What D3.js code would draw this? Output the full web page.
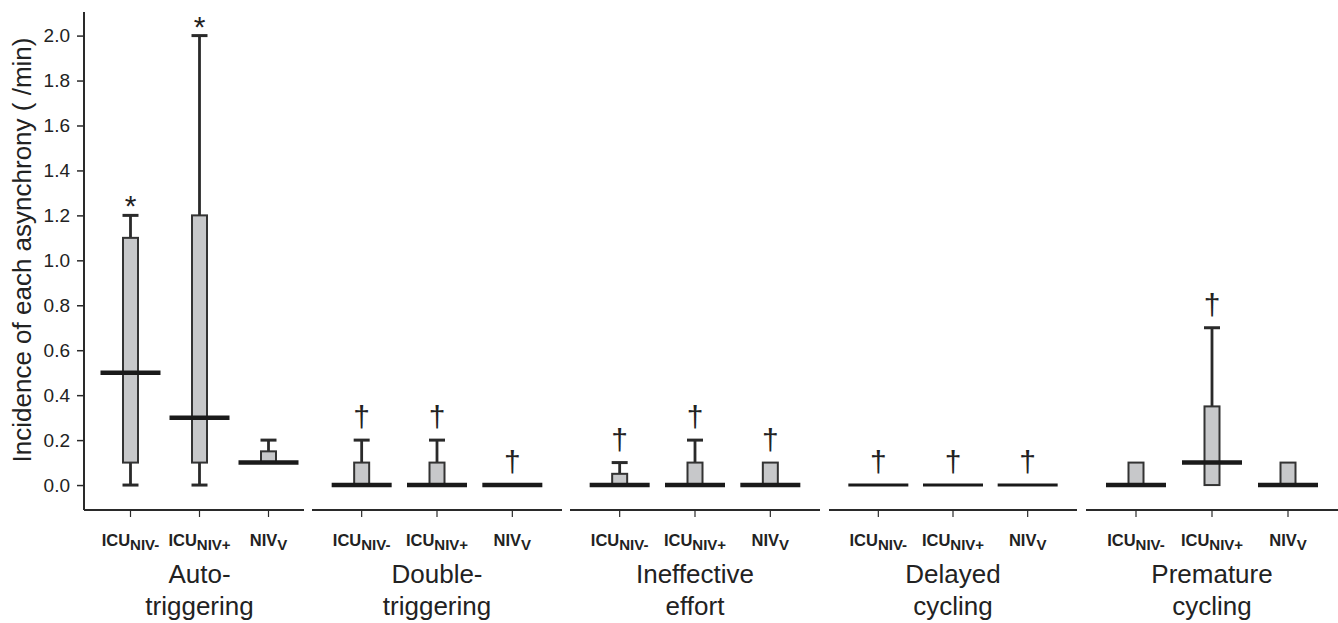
<!DOCTYPE html>
<html>
<head>
<meta charset="utf-8">
<script src="https://cdn.jsdelivr.net/npm/d3@7"></script>
<style>
  body { margin: 0; background: #fff; }
  svg { display: block; }
  text { font-family: "Liberation Sans", Arial, sans-serif; fill: #222; }
</style>
</head>
<body>
<svg id="chart" width="1338" height="623"></svg>
<script>
// groups (two-line labels) and conditions
var groupLines = [["Auto-", "triggering"], ["Double-", "triggering"], ["Ineffective", "effort"], ["Delayed", "cycling"], ["Premature", "cycling"]]
var condMain = ["ICU", "ICU", "NIV"]
var condSub = ["NIV-", "NIV+", "V"]

// box statistics per group, per condition
var whiskerLow  = [[0, 0, 0.1], [0, 0, 0], [0, 0, 0], [0, 0, 0], [0, 0, 0]]
var q1          = [[0.1, 0.1, 0.1], [0, 0, 0], [0, 0, 0], [0, 0, 0], [0, 0, 0]]
var median      = [[0.5, 0.3, 0.1], [0, 0, 0], [0, 0, 0], [0, 0, 0], [0, 0.1, 0]]
var q3          = [[1.1, 1.2, 0.15], [0.1, 0.1, 0], [0.05, 0.1, 0.1], [0, 0, 0], [0.1, 0.35, 0.1]]
var whiskerHigh = [[1.2, 2.0, 0.2], [0.2, 0.2, 0], [0.1, 0.2, 0.1], [0, 0, 0], [0.1, 0.7, 0.1]]
var markers     = [["*", "*", ""], ["\u2020", "\u2020", "\u2020"], ["\u2020", "\u2020", "\u2020"], ["\u2020", "\u2020", "\u2020"], ["", "\u2020", ""]]

var yTicks = [0, 0.2, 0.4, 0.6, 0.8, 1.0, 1.2, 1.4, 1.6, 1.8, 2.0]

// layout
var axisX = 84, axisBottom = 510, axisTop = 12
var segments = [[84, 304], [312, 562], [570, 820], [829, 1077], [1086, 1338]]
var inner = [[96, 303], [324, 550], [582, 808], [841, 1065], [1098, 1326]]
var boxW = 15, medW = 60, capW = 16
var ink = "#2a2a2a"

var svg = d3.select("#chart")

var y = d3.scaleLinear().domain([-0.111, 2.105]).range([axisBottom, axisTop])

// y axis
var yAxis = svg.append("g")
    .attr("transform", "translate(" + axisX + ",0)")
    .call(d3.axisLeft(y).tickValues(yTicks).tickFormat(d3.format(".1f")).tickSize(7).tickSizeOuter(0).tickPadding(7))
yAxis.select(".domain").attr("d", "M0," + axisTop + "V" + axisBottom).attr("stroke", ink).attr("stroke-width", 2)
yAxis.selectAll(".tick line").attr("stroke", ink).attr("stroke-width", 1.5)
yAxis.selectAll(".tick text").style("font-size", "19px").attr("fill", "#222")

svg.append("text")
    .attr("transform", "translate(31,250) rotate(-90)")
    .attr("text-anchor", "middle")
    .style("font-size", "26px")
    .text("Incidence of each asynchrony ( /min)")

groupLines.forEach(function(lines, g) {
    var x = d3.scaleBand().domain(d3.range(3)).range(inner[g])
    var cx = function(i) { return x(i) + x.bandwidth() / 2 }

    // axis segment
    svg.append("line")
        .attr("x1", segments[g][0]).attr("x2", segments[g][1])
        .attr("y1", axisBottom).attr("y2", axisBottom)
        .attr("stroke", ink).attr("stroke-width", 2)

    var xa = svg.append("g")
        .attr("transform", "translate(0," + axisBottom + ")")
        .call(d3.axisBottom(x).tickSize(7).tickSizeOuter(0).tickFormat(""))
    xa.select(".domain").remove()
    xa.selectAll(".tick line").attr("stroke", ink).attr("stroke-width", 1.2)

    // tick labels with subscripts
    d3.range(3).forEach(function(i) {
        var t = svg.append("text")
            .attr("x", cx(i)).attr("y", 546)
            .attr("text-anchor", "middle")
            .style("font-weight", "bold")
            .style("font-size", "16.5px")
        t.append("tspan").text(condMain[i])
        t.append("tspan").attr("dy", 4).style("font-size", "15px").text(condSub[i])
    })

    // group label
    lines.forEach(function(s, k) {
        svg.append("text")
            .attr("x", (inner[g][0] + inner[g][1]) / 2)
            .attr("y", 583 + k * 32)
            .attr("text-anchor", "middle")
            .style("font-size", "26px")
            .text(s)
    })

    var thin = g === 3

    d3.range(3).forEach(function(i) {
        var c = cx(i)
        var gg = svg.append("g")
        // upper whisker
        if (whiskerHigh[g][i] > q3[g][i]) {
            gg.append("line").attr("x1", c).attr("x2", c)
                .attr("y1", y(q3[g][i])).attr("y2", y(whiskerHigh[g][i]))
                .attr("stroke", ink).attr("stroke-width", 2.8)
            gg.append("line").attr("x1", c - capW / 2).attr("x2", c + capW / 2)
                .attr("y1", y(whiskerHigh[g][i])).attr("y2", y(whiskerHigh[g][i]))
                .attr("stroke", ink).attr("stroke-width", 3)
        }
        // lower whisker
        if (whiskerLow[g][i] < q1[g][i]) {
            gg.append("line").attr("x1", c).attr("x2", c)
                .attr("y1", y(q1[g][i])).attr("y2", y(whiskerLow[g][i]))
                .attr("stroke", ink).attr("stroke-width", 2.8)
            gg.append("line").attr("x1", c - capW / 2).attr("x2", c + capW / 2)
                .attr("y1", y(whiskerLow[g][i])).attr("y2", y(whiskerLow[g][i]))
                .attr("stroke", ink).attr("stroke-width", 3)
        }
        // box
        if (q3[g][i] > q1[g][i]) {
            gg.append("rect")
                .attr("x", c - boxW / 2).attr("width", boxW)
                .attr("y", y(q3[g][i])).attr("height", y(q1[g][i]) - y(q3[g][i]))
                .attr("fill", "#c7c8ca").attr("stroke", "#333").attr("stroke-width", 2)
        }
        // median
        gg.append("line")
            .attr("x1", c - medW / 2).attr("x2", c + medW / 2)
            .attr("y1", y(median[g][i])).attr("y2", y(median[g][i]))
            .attr("stroke", "#1a1a1a").attr("stroke-width", thin ? 3 : 4.5)
        // significance marker
        if (markers[g][i]) {
            var top = y(Math.max(whiskerHigh[g][i], q3[g][i], median[g][i]))
            var star = markers[g][i] === "*"
            gg.append("text")
                .attr("x", c).attr("y", star ? top + 1 : top - 13)
                .attr("text-anchor", "middle")
                .style("font-size", "30px")
                .text(markers[g][i])
        }
    })
})
</script>
</body>
</html>
